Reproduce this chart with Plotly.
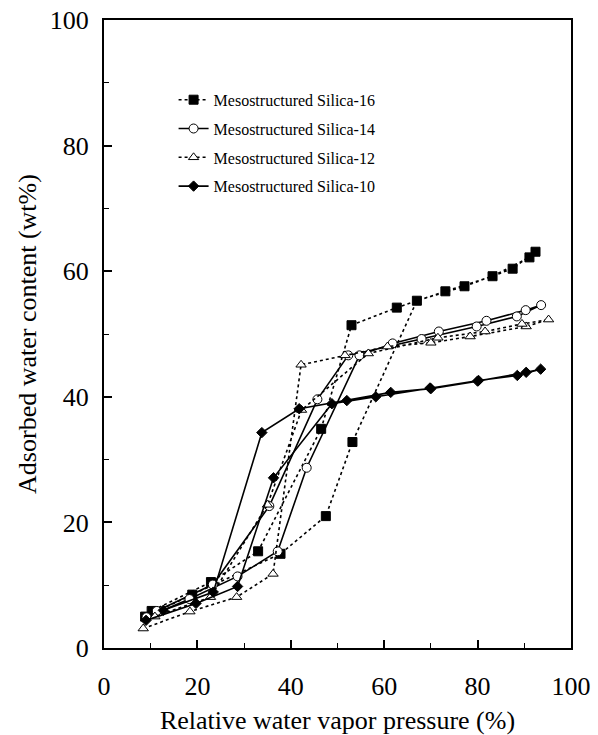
import plotly.graph_objects as go

# Mesostructured Silica-16 (adsorption then desorption)
x16 = [8.8, 18.9, 37.8, 47.5, 53.2, 67.0, 77.2, 87.5, 92.4, 91.1, 83.2, 73.1, 62.7, 53.0, 46.5, 33.0, 22.9, 10.2]
y16 = [5.0, 8.5, 15.0, 21.0, 32.8, 55.3, 57.6, 60.4, 63.1, 62.2, 59.2, 56.8, 54.2, 51.4, 34.9, 15.4, 10.5, 5.9]

# Mesostructured Silica-14
x14 = [9.1, 18.3, 28.6, 37.2, 43.4, 54.7, 61.8, 71.7, 81.9, 90.3, 93.6, 88.4, 79.8, 68.0, 52.3, 45.7, 35.4, 23.3, 11.3]
y14 = [4.9, 7.8, 11.4, 15.4, 28.7, 46.6, 48.5, 50.4, 52.1, 53.8, 54.6, 52.8, 51.2, 49.2, 46.6, 39.6, 22.6, 10.1, 5.9]

# Mesostructured Silica-12
x12 = [8.4, 18.4, 28.4, 36.2, 42.2, 51.6, 60.7, 70.0, 78.4, 90.4, 95.2, 89.5, 81.6, 71.5, 56.6, 42.3, 35.0, 22.8, 10.9]
y12 = [3.1, 5.8, 8.1, 11.8, 45.1, 46.6, 48.0, 48.6, 49.6, 51.2, 52.3, 51.6, 50.4, 49.4, 46.9, 37.9, 22.8, 8.1, 5.0]

# Mesostructured Silica-10
x10 = [9.0, 19.7, 28.6, 36.3, 48.8, 58.2, 69.8, 80.2, 88.5, 93.5, 90.4, 80.0, 70.0, 61.4, 52.0, 41.8, 33.8, 23.4, 12.7]
y10 = [4.4, 7.1, 9.8, 27.1, 38.9, 40.0, 41.4, 42.6, 43.4, 44.4, 43.9, 42.5, 41.3, 40.7, 39.4, 38.1, 34.3, 8.9, 6.0]

names = ["Mesostructured Silica-16", "Mesostructured Silica-14",
         "Mesostructured Silica-12", "Mesostructured Silica-10"]

x_ticks = [0, 20, 40, 60, 80, 100]
y_ticks = [0, 20, 40, 60, 80, 100]

FONT = "Liberation Serif, Times New Roman, DejaVu Serif, serif"

fig = go.Figure()
specs = [
    (x16, y16, names[0], "dot", "square", "black", 9),
    (x14, y14, names[1], "solid", "circle", "white", 9),
    (x12, y12, names[2], "dot", "triangle-up", "white", 9),
    (x10, y10, names[3], "solid", "diamond", "black", 8),
]
for i, (xs, ys, nm, dash, sym, fill, sz) in enumerate(specs):
    fig.add_trace(go.Scatter(
        x=xs, y=ys, name=nm, mode="lines+markers",
        legendgroup=f"g{i}",
        line=dict(color="black", width=1.6, dash=dash),
        marker=dict(symbol=sym, size=sz, color=fill,
                    line=dict(color="black", width=1)),
    ))

axis_common = dict(
    showline=True, linecolor="black", linewidth=2, mirror=True,
    ticks="inside", ticklen=8, tickwidth=1.5, tickcolor="black",
    showgrid=False, zeroline=False, automargin=False,
    ticklabeloverflow="allow",
    tickfont=dict(family=FONT, size=26, color="black"),
    minor=dict(ticks="inside", ticklen=5, tickwidth=1.2, tickcolor="black", dtick=10),
)

fig.update_xaxes(range=[0, 100], tickvals=x_ticks, ticktext=[str(v) for v in x_ticks],
                 title=dict(text="Relative water vapor pressure (%)",
                            font=dict(family=FONT, size=26, color="black"), standoff=13),
                 ticklabelstandoff=14, **axis_common)
fig.update_yaxes(range=[0, 100], tickvals=y_ticks, ticktext=[str(v) for v in y_ticks],
                 title=dict(text="Adsorbed water content (wt%)",
                            font=dict(family=FONT, size=26, color="black"), standoff=6),
                 ticklabelstandoff=8, **axis_common)

fig.update_layout(
    width=598, height=735,
    margin=dict(l=104, r=27, t=20, b=87),
    paper_bgcolor="white", plot_bgcolor="white",
    showlegend=True,
    legend=dict(x=0.149, y=0.900, xanchor="left", yanchor="top",
                bgcolor="rgba(0,0,0,0)", borderwidth=0,
                font=dict(family=FONT, size=16, color="black"),
                tracegroupgap=5),
)

fig.write_html("out.html",
               config={"displayModeBar": False},
               post_script="document.body.style.margin='0';document.body.style.overflow='hidden';")
